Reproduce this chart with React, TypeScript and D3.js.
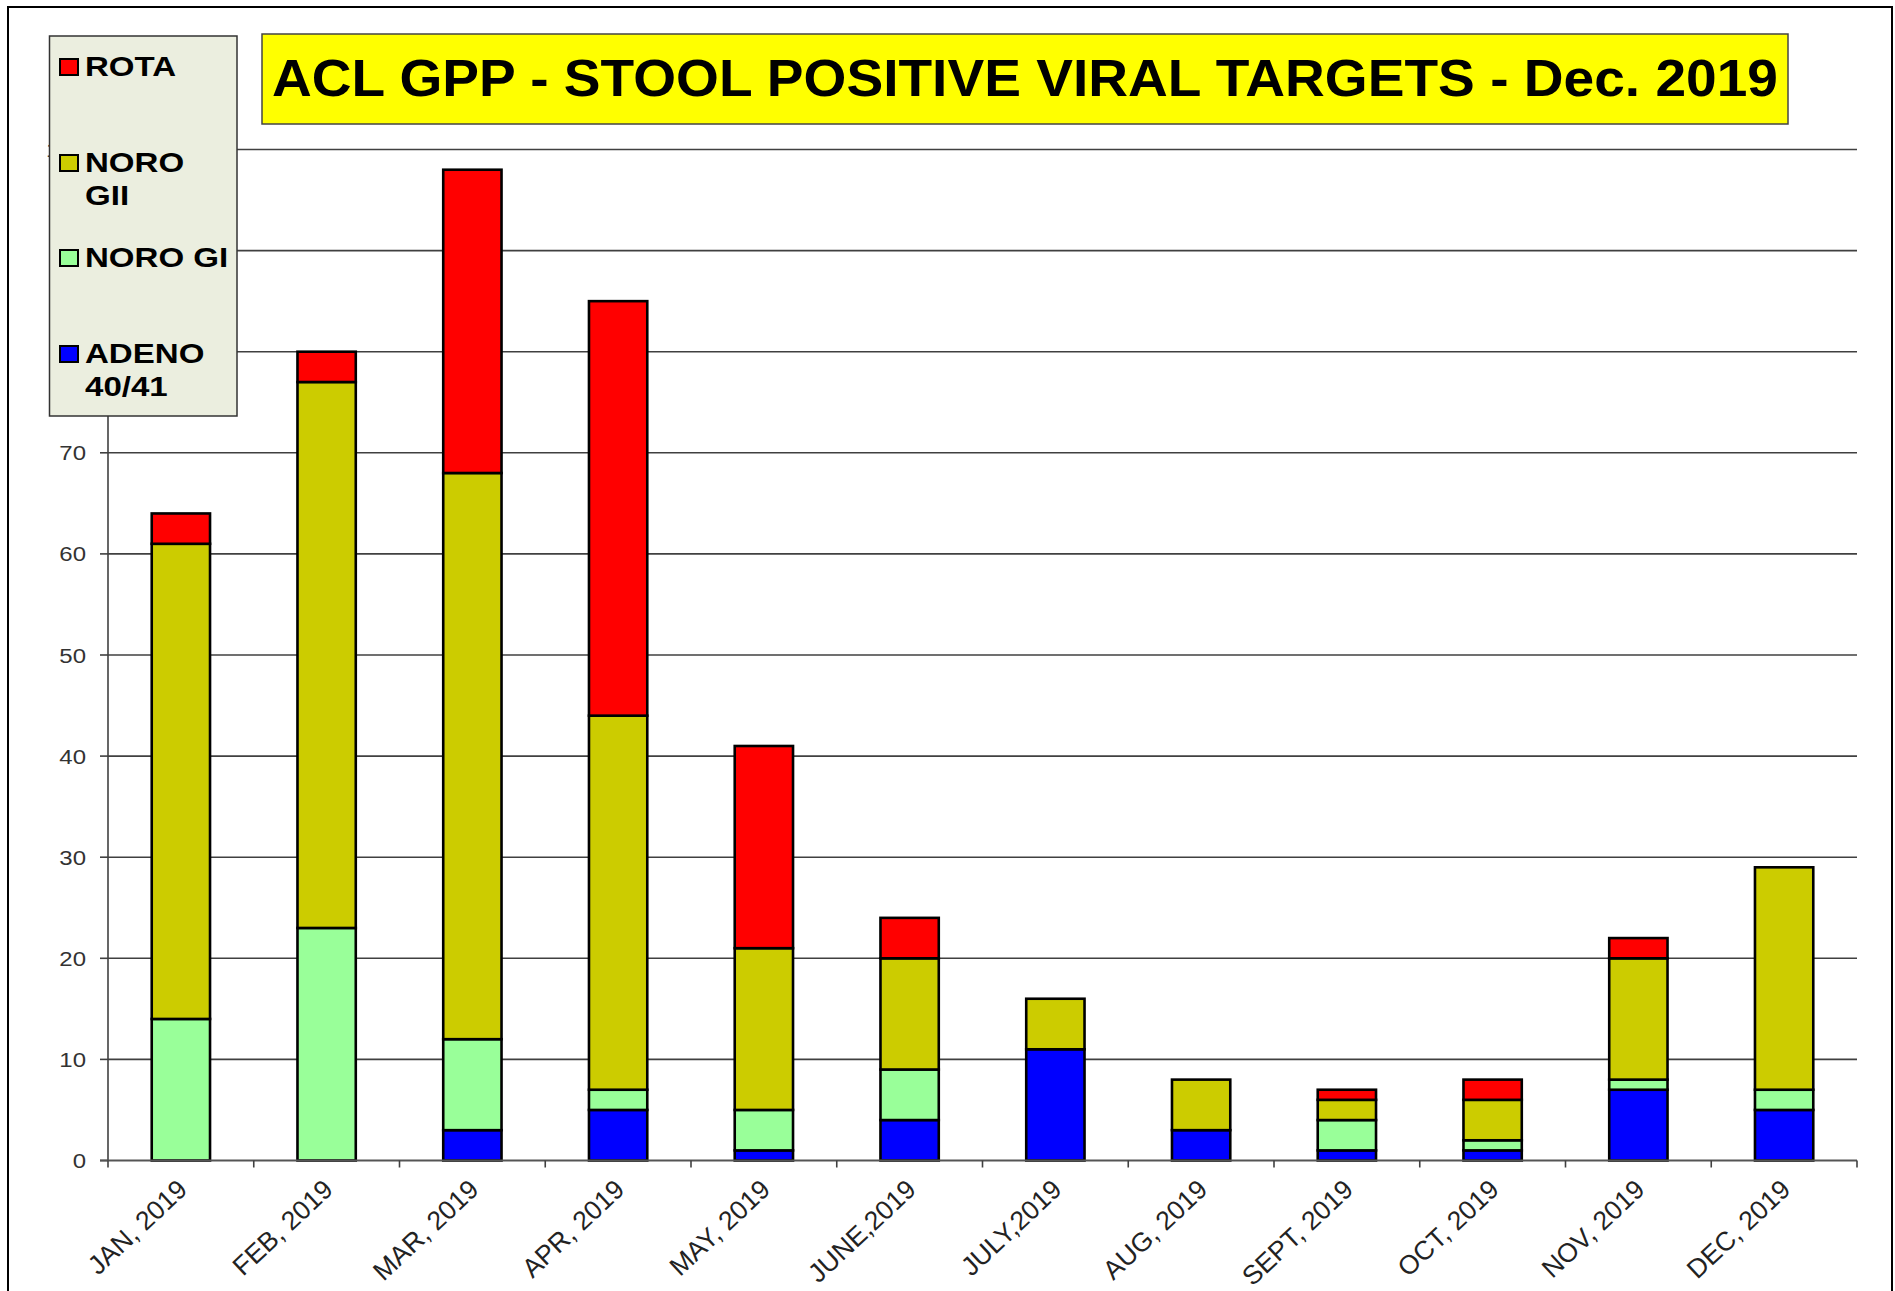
import React from "react";
import * as d3 from "d3";

const categories = ["JAN, 2019", "FEB, 2019", "MAR, 2019", "APR, 2019", "MAY, 2019", "JUNE,2019", "JULY,2019", "AUG, 2019", "SEPT, 2019", "OCT, 2019", "NOV, 2019", "DEC, 2019"];
const adeno = [0, 0, 3, 5, 1, 4, 11, 3, 1, 1, 7, 5];
const noroGI = [14, 23, 9, 2, 4, 5, 0, 0, 3, 1, 1, 2];
const noroGII = [47, 54, 56, 37, 16, 11, 5, 5, 2, 4, 12, 22];
const rota = [3, 3, 30, 41, 20, 4, 0, 0, 1, 2, 2, 0];
const yTicks = [0, 10, 20, 30, 40, 50, 60, 70, 80, 90, 100];
const seriesKeys = ["adeno", "noroGI", "noroGII", "rota"];
const seriesColors = ["#0000FF", "#99FF99", "#CCCC00", "#FF0000"];
const legendItems = [
  { lines: ["ROTA"], color: "#FF0000" },
  { lines: ["NORO", "GII"], color: "#CCCC00" },
  { lines: ["NORO GI"], color: "#99FF99" },
  { lines: ["ADENO", "40/41"], color: "#0000FF" },
];
const title = "ACL GPP - STOOL POSITIVE VIRAL TARGETS - Dec. 2019";

const FONT = "'Liberation Sans', Arial, Helvetica, sans-serif";

export default function App() {
  const W = 1895, H = 1291;
  const x = d3.scaleBand<string>().domain(categories).range([108, 1857]).paddingInner(0.6).paddingOuter(0.3);
  const y = d3.scaleLinear().domain([0, 100]).range([1160.5, 149.5]);
  const rows = categories.map((c, i) => ({ cat: c, adeno: adeno[i], noroGI: noroGI[i], noroGII: noroGII[i], rota: rota[i] }));
  const stack = d3.stack<any>().keys(seriesKeys)(rows);
  const step = x.step();
  const bounds = d3.range(categories.length + 1).map((i) => 108 + i * step);
  const legendY = [76, 172, 267, 363];

  return (
    <svg width={W} height={H} style={{ position: "absolute", left: 0, top: 0, background: "#fff" }}>
      <rect x={0} y={0} width={W} height={H} fill="#fff" />
      {/* gridlines */}
      {yTicks.filter((t) => t > 0).map((t) => (
        <line key={"g" + t} x1={108} x2={1857} y1={y(t)} y2={y(t)} stroke="#404040" strokeWidth={1.6} />
      ))}
      {/* y ticks */}
      {yTicks.map((t) => (
        <line key={"yt" + t} x1={100} x2={108} y1={y(t)} y2={y(t)} stroke="#404040" strokeWidth={1.6} />
      ))}
      {yTicks.map((t) => (
        <text key={"yl" + t} transform={`translate(86,${y(t) + 7.5}) scale(1.17,1)`} textAnchor="end" fontFamily={FONT} fontSize={20.5} fill="#333">{t}</text>
      ))}
      {/* bars */}
      {stack.map((s, si) => (
        <g key={s.key}>
          {s.map((d, i) => d[1] - d[0] > 0 ? (
            <rect key={i} x={x(categories[i])} width={x.bandwidth()} y={y(d[1])} height={y(d[0]) - y(d[1])} fill={seriesColors[si]} stroke="#000" strokeWidth={2.6} />
          ) : null)}
        </g>
      ))}
      {/* axes */}
      <line x1={108} x2={108} y1={y(100)} y2={y(0)} stroke="#404040" strokeWidth={1.6} />
      <line x1={100} x2={1857} y1={y(0)} y2={y(0)} stroke="#555" strokeWidth={2} />
      {bounds.map((b, i) => (
        <line key={"xt" + i} x1={b} x2={b} y1={y(0)} y2={y(0) + 7} stroke="#404040" strokeWidth={1.6} />
      ))}
      {categories.map((c) => (
        <text key={"xl" + c} transform={`translate(${x(c)! + x.bandwidth() / 2 + 8},${y(0) + 31}) rotate(-43)`} textAnchor="end" fontFamily={FONT} fontSize={26.5} fill="#222">{c}</text>
      ))}
      {/* legend */}
      <rect x={49.5} y={36} width={187.5} height={380} fill="#EBEEDF" stroke="#333" strokeWidth={1.5} />
      {legendItems.map((it, i) => (
        <g key={"lg" + i}>
          <rect x={60} y={legendY[i] - 17} width={18} height={16} fill={it.color} stroke="#000" strokeWidth={2} />
          {it.lines.map((ln, j) => (
            <text key={j} transform={`translate(85,${legendY[i] + j * 33}) scale(1.16,1)`} fontFamily={FONT} fontWeight="bold" fontSize={28.5} fill="#000">{ln}</text>
          ))}
        </g>
      ))}
      {/* title */}
      <rect x={262} y={34} width={1526} height={90} fill="#FFFF00" stroke="#444" strokeWidth={1.5} />
      <text x={272} y={96} textLength={1506} lengthAdjust="spacingAndGlyphs" fontFamily={FONT} fontWeight="bold" fontSize={52.5} fill="#000">{title}</text>
      {/* outer frame */}
      <rect x={8} y={7} width={1884} height={1300} fill="none" stroke="#000" strokeWidth={2} />
    </svg>
  );
}
